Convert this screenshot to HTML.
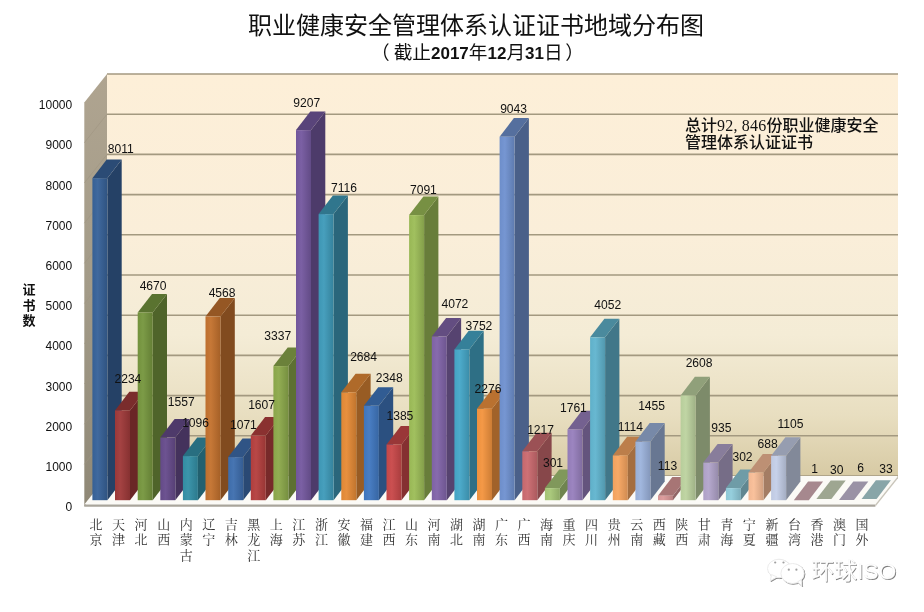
<!DOCTYPE html>
<html lang="zh-CN">
<head>
<meta charset="utf-8">
<title>职业健康安全管理体系认证证书地域分布图</title>
<style>html,body{margin:0;padding:0;background:#fff;}body{width:924px;height:612px;overflow:hidden;}svg{display:block;}</style>
</head>
<body>
<svg width="924" height="612" viewBox="0 0 924 612">
<defs>
<linearGradient id="wall" x1="0" y1="0" x2="0" y2="1"><stop offset="0" stop-color="#FDEFD8"/><stop offset="0.4" stop-color="#FAEED9"/><stop offset="0.65" stop-color="#F4ECD6"/><stop offset="0.85" stop-color="#E8DEC0"/><stop offset="1" stop-color="#D7CAA4"/></linearGradient>
<linearGradient id="side" x1="0" y1="0" x2="0" y2="1"><stop offset="0" stop-color="#AFA490"/><stop offset="0.5" stop-color="#A39B88"/><stop offset="1" stop-color="#8F8876"/></linearGradient>
<linearGradient id="g0" x1="0" y1="0" x2="1" y2="0"><stop offset="0" stop-color="#366095"/><stop offset="0.35" stop-color="#40699E"/><stop offset="1" stop-color="#2F5381"/></linearGradient>
<linearGradient id="g1" x1="0" y1="0" x2="1" y2="0"><stop offset="0" stop-color="#9B3838"/><stop offset="0.35" stop-color="#A44242"/><stop offset="1" stop-color="#863131"/></linearGradient>
<linearGradient id="g2" x1="0" y1="0" x2="1" y2="0"><stop offset="0" stop-color="#73923D"/><stop offset="0.35" stop-color="#7C9B47"/><stop offset="1" stop-color="#647F35"/></linearGradient>
<linearGradient id="g3" x1="0" y1="0" x2="1" y2="0"><stop offset="0" stop-color="#644A88"/><stop offset="0.35" stop-color="#6D5391"/><stop offset="1" stop-color="#574076"/></linearGradient>
<linearGradient id="g4" x1="0" y1="0" x2="1" y2="0"><stop offset="0" stop-color="#328DA3"/><stop offset="0.35" stop-color="#3C95AB"/><stop offset="1" stop-color="#2C7A8D"/></linearGradient>
<linearGradient id="g5" x1="0" y1="0" x2="1" y2="0"><stop offset="0" stop-color="#BE6F2E"/><stop offset="0.35" stop-color="#C67837"/><stop offset="1" stop-color="#A56027"/></linearGradient>
<linearGradient id="g6" x1="0" y1="0" x2="1" y2="0"><stop offset="0" stop-color="#3D6CAA"/><stop offset="0.35" stop-color="#4775B2"/><stop offset="1" stop-color="#355D93"/></linearGradient>
<linearGradient id="g7" x1="0" y1="0" x2="1" y2="0"><stop offset="0" stop-color="#B03E3D"/><stop offset="0.35" stop-color="#B84847"/><stop offset="1" stop-color="#983635"/></linearGradient>
<linearGradient id="g8" x1="0" y1="0" x2="1" y2="0"><stop offset="0" stop-color="#89A54A"/><stop offset="0.35" stop-color="#92AD53"/><stop offset="1" stop-color="#768F40"/></linearGradient>
<linearGradient id="g9" x1="0" y1="0" x2="1" y2="0"><stop offset="0" stop-color="#71569B"/><stop offset="0.35" stop-color="#7B60A4"/><stop offset="1" stop-color="#624B86"/></linearGradient>
<linearGradient id="g10" x1="0" y1="0" x2="1" y2="0"><stop offset="0" stop-color="#3D96B4"/><stop offset="0.35" stop-color="#479FBD"/><stop offset="1" stop-color="#35829C"/></linearGradient>
<linearGradient id="g11" x1="0" y1="0" x2="1" y2="0"><stop offset="0" stop-color="#DF8735"/><stop offset="0.35" stop-color="#E7903F"/><stop offset="1" stop-color="#C1752E"/></linearGradient>
<linearGradient id="g12" x1="0" y1="0" x2="1" y2="0"><stop offset="0" stop-color="#3F75BC"/><stop offset="0.35" stop-color="#497EC4"/><stop offset="1" stop-color="#3766A3"/></linearGradient>
<linearGradient id="g13" x1="0" y1="0" x2="1" y2="0"><stop offset="0" stop-color="#C34748"/><stop offset="0.35" stop-color="#CB5051"/><stop offset="1" stop-color="#A93D3E"/></linearGradient>
<linearGradient id="g14" x1="0" y1="0" x2="1" y2="0"><stop offset="0" stop-color="#98B755"/><stop offset="0.35" stop-color="#A1C05F"/><stop offset="1" stop-color="#849F4A"/></linearGradient>
<linearGradient id="g15" x1="0" y1="0" x2="1" y2="0"><stop offset="0" stop-color="#7E62A5"/><stop offset="0.35" stop-color="#876BAD"/><stop offset="1" stop-color="#6D558F"/></linearGradient>
<linearGradient id="g16" x1="0" y1="0" x2="1" y2="0"><stop offset="0" stop-color="#44A3C3"/><stop offset="0.35" stop-color="#4DABCB"/><stop offset="1" stop-color="#3B8DA9"/></linearGradient>
<linearGradient id="g17" x1="0" y1="0" x2="1" y2="0"><stop offset="0" stop-color="#ED913D"/><stop offset="0.35" stop-color="#F49947"/><stop offset="1" stop-color="#CD7D35"/></linearGradient>
<linearGradient id="g18" x1="0" y1="0" x2="1" y2="0"><stop offset="0" stop-color="#6D8ECA"/><stop offset="0.35" stop-color="#7696D2"/><stop offset="1" stop-color="#5E7BAF"/></linearGradient>
<linearGradient id="g19" x1="0" y1="0" x2="1" y2="0"><stop offset="0" stop-color="#C6686D"/><stop offset="0.35" stop-color="#CE7176"/><stop offset="1" stop-color="#AB5A5E"/></linearGradient>
<linearGradient id="g20" x1="0" y1="0" x2="1" y2="0"><stop offset="0" stop-color="#A3C274"/><stop offset="0.35" stop-color="#ABCA7D"/><stop offset="1" stop-color="#8DA865"/></linearGradient>
<linearGradient id="g21" x1="0" y1="0" x2="1" y2="0"><stop offset="0" stop-color="#937CB7"/><stop offset="0.35" stop-color="#9C85C0"/><stop offset="1" stop-color="#806C9F"/></linearGradient>
<linearGradient id="g22" x1="0" y1="0" x2="1" y2="0"><stop offset="0" stop-color="#5FB0C9"/><stop offset="0.35" stop-color="#68B8D1"/><stop offset="1" stop-color="#5298AE"/></linearGradient>
<linearGradient id="g23" x1="0" y1="0" x2="1" y2="0"><stop offset="0" stop-color="#F1A15E"/><stop offset="0.35" stop-color="#F8AA67"/><stop offset="1" stop-color="#D08B51"/></linearGradient>
<linearGradient id="g24" x1="0" y1="0" x2="1" y2="0"><stop offset="0" stop-color="#98AFD6"/><stop offset="0.35" stop-color="#A1B7DE"/><stop offset="1" stop-color="#8497BA"/></linearGradient>
<linearGradient id="g25" x1="0" y1="0" x2="1" y2="0"><stop offset="0" stop-color="#D59595"/><stop offset="0.35" stop-color="#DD9E9E"/><stop offset="1" stop-color="#B98181"/></linearGradient>
<linearGradient id="g26" x1="0" y1="0" x2="1" y2="0"><stop offset="0" stop-color="#B7CD9B"/><stop offset="0.35" stop-color="#C0D5A4"/><stop offset="1" stop-color="#9FB186"/></linearGradient>
<linearGradient id="g27" x1="0" y1="0" x2="1" y2="0"><stop offset="0" stop-color="#AEA0C6"/><stop offset="0.35" stop-color="#B6A9CE"/><stop offset="1" stop-color="#968BAB"/></linearGradient>
<linearGradient id="g28" x1="0" y1="0" x2="1" y2="0"><stop offset="0" stop-color="#8EC7D5"/><stop offset="0.35" stop-color="#96CFDD"/><stop offset="1" stop-color="#7BACB9"/></linearGradient>
<linearGradient id="g29" x1="0" y1="0" x2="1" y2="0"><stop offset="0" stop-color="#F2B893"/><stop offset="0.35" stop-color="#F9C19C"/><stop offset="1" stop-color="#D1A080"/></linearGradient>
<linearGradient id="g30" x1="0" y1="0" x2="1" y2="0"><stop offset="0" stop-color="#BFC9E1"/><stop offset="0.35" stop-color="#C7D1E9"/><stop offset="1" stop-color="#A5AEC3"/></linearGradient>
<linearGradient id="g31" x1="0" y1="0" x2="1" y2="0"><stop offset="0" stop-color="#A1848A"/><stop offset="0.35" stop-color="#AA8D93"/><stop offset="1" stop-color="#8B7277"/></linearGradient>
<linearGradient id="g32" x1="0" y1="0" x2="1" y2="0"><stop offset="0" stop-color="#99A18D"/><stop offset="0.35" stop-color="#A2AA95"/><stop offset="1" stop-color="#858B7A"/></linearGradient>
<linearGradient id="g33" x1="0" y1="0" x2="1" y2="0"><stop offset="0" stop-color="#958EA0"/><stop offset="0.35" stop-color="#9E96A9"/><stop offset="1" stop-color="#817B8B"/></linearGradient>
<linearGradient id="g34" x1="0" y1="0" x2="1" y2="0"><stop offset="0" stop-color="#84A0A3"/><stop offset="0.35" stop-color="#8DA9AB"/><stop offset="1" stop-color="#728B8D"/></linearGradient>
</defs>
<rect width="924" height="612" fill="#FFFFFF"/>
<rect x="107.0" y="74.0" width="791.0" height="402.0" fill="url(#wall)"/>
<polygon points="84.3,102.6 107.0,74.0 107.0,478.0 84.3,506.6" fill="url(#side)"/>
<line x1="107.0" y1="476.0" x2="898.0" y2="476.0" stroke="#A39980" stroke-width="1.6"/>
<line x1="107.0" y1="435.8" x2="898.0" y2="435.8" stroke="#A39980" stroke-width="1.6"/>
<line x1="84.3" y1="464.4" x2="107.0" y2="435.8" stroke="#9F9582" stroke-width="1" opacity="0.6"/>
<line x1="107.0" y1="395.6" x2="898.0" y2="395.6" stroke="#A39980" stroke-width="1.6"/>
<line x1="84.3" y1="424.2" x2="107.0" y2="395.6" stroke="#9F9582" stroke-width="1" opacity="0.6"/>
<line x1="107.0" y1="355.4" x2="898.0" y2="355.4" stroke="#A39980" stroke-width="1.6"/>
<line x1="84.3" y1="384.0" x2="107.0" y2="355.4" stroke="#9F9582" stroke-width="1" opacity="0.6"/>
<line x1="107.0" y1="315.2" x2="898.0" y2="315.2" stroke="#A39980" stroke-width="1.6"/>
<line x1="84.3" y1="343.8" x2="107.0" y2="315.2" stroke="#9F9582" stroke-width="1" opacity="0.6"/>
<line x1="107.0" y1="275.0" x2="898.0" y2="275.0" stroke="#A39980" stroke-width="1.6"/>
<line x1="84.3" y1="303.6" x2="107.0" y2="275.0" stroke="#9F9582" stroke-width="1" opacity="0.6"/>
<line x1="107.0" y1="234.8" x2="898.0" y2="234.8" stroke="#A39980" stroke-width="1.6"/>
<line x1="84.3" y1="263.4" x2="107.0" y2="234.8" stroke="#9F9582" stroke-width="1" opacity="0.6"/>
<line x1="107.0" y1="194.6" x2="898.0" y2="194.6" stroke="#A39980" stroke-width="1.6"/>
<line x1="84.3" y1="223.2" x2="107.0" y2="194.6" stroke="#9F9582" stroke-width="1" opacity="0.6"/>
<line x1="107.0" y1="154.4" x2="898.0" y2="154.4" stroke="#A39980" stroke-width="1.6"/>
<line x1="84.3" y1="183.0" x2="107.0" y2="154.4" stroke="#9F9582" stroke-width="1" opacity="0.6"/>
<line x1="107.0" y1="114.2" x2="898.0" y2="114.2" stroke="#A39980" stroke-width="1.6"/>
<line x1="84.3" y1="142.8" x2="107.0" y2="114.2" stroke="#9F9582" stroke-width="1" opacity="0.6"/>
<line x1="107.0" y1="74.0" x2="898.0" y2="74.0" stroke="#A39980" stroke-width="1.6"/>
<polygon points="84.3,504.6 107.0,476.0 898.0,476.0 875.3,504.6" fill="#FBFAF6"/>
<polygon points="84.3,504.6 875.3,504.6 875.3,506.8 84.3,506.8" fill="#A9A59B"/>
<polygon points="875.3,504.6 898.0,476.0 898.0,478.2 875.3,506.8" fill="#C9C5BA"/>
<polygon points="107.4,500.2 121.7,481.6 121.7,159.6 107.4,178.2" fill="#254166"/>
<polygon points="92.4,178.2 107.4,178.2 121.7,159.6 106.7,159.6" fill="#2B4B75"/>
<rect x="92.4" y="178.2" width="15.0" height="322.0" fill="url(#g0)"/>
<polygon points="130.0,500.2 144.3,481.6 144.3,391.8 130.0,410.4" fill="#6A2626"/>
<polygon points="115.0,410.4 130.0,410.4 144.3,391.8 129.3,391.8" fill="#7A2C2C"/>
<rect x="115.0" y="410.4" width="15.0" height="89.8" fill="url(#g1)"/>
<polygon points="152.7,500.2 167.0,481.6 167.0,293.9 152.7,312.5" fill="#4F642A"/>
<polygon points="137.7,312.5 152.7,312.5 167.0,293.9 152.0,293.9" fill="#5A7330"/>
<rect x="137.7" y="312.5" width="15.0" height="187.7" fill="url(#g2)"/>
<polygon points="175.3,500.2 189.6,481.6 189.6,419.0 175.3,437.6" fill="#44325C"/>
<polygon points="160.3,437.6 175.3,437.6 189.6,419.0 174.6,419.0" fill="#4E3A6A"/>
<rect x="160.3" y="437.6" width="15.0" height="62.6" fill="url(#g3)"/>
<polygon points="197.9,500.2 212.2,481.6 212.2,437.5 197.9,456.1" fill="#22606F"/>
<polygon points="182.9,456.1 197.9,456.1 212.2,437.5 197.2,437.5" fill="#286E80"/>
<rect x="182.9" y="456.1" width="15.0" height="44.1" fill="url(#g4)"/>
<polygon points="220.5,500.2 234.8,481.6 234.8,298.0 220.5,316.6" fill="#814B1F"/>
<polygon points="205.5,316.6 220.5,316.6 234.8,298.0 219.8,298.0" fill="#955724"/>
<rect x="205.5" y="316.6" width="15.0" height="183.6" fill="url(#g5)"/>
<polygon points="243.2,500.2 257.4,481.6 257.4,438.5 243.2,457.1" fill="#2A4974"/>
<polygon points="228.2,457.1 243.2,457.1 257.4,438.5 242.5,438.5" fill="#305485"/>
<rect x="228.2" y="457.1" width="15.0" height="43.1" fill="url(#g6)"/>
<polygon points="265.8,500.2 280.1,481.6 280.1,417.0 265.8,435.6" fill="#772A2A"/>
<polygon points="250.8,435.6 265.8,435.6 280.1,417.0 265.1,417.0" fill="#8A3130"/>
<rect x="250.8" y="435.6" width="15.0" height="64.6" fill="url(#g7)"/>
<polygon points="288.4,500.2 302.7,481.6 302.7,347.5 288.4,366.1" fill="#5D7032"/>
<polygon points="273.4,366.1 288.4,366.1 302.7,347.5 287.7,347.5" fill="#6B813A"/>
<rect x="273.4" y="366.1" width="15.0" height="134.1" fill="url(#g8)"/>
<polygon points="311.0,500.2 325.3,481.6 325.3,111.5 311.0,130.1" fill="#4D3B6A"/>
<polygon points="296.0,130.1 311.0,130.1 325.3,111.5 310.3,111.5" fill="#59447A"/>
<rect x="296.0" y="130.1" width="15.0" height="370.1" fill="url(#g9)"/>
<polygon points="333.6,500.2 347.9,481.6 347.9,195.5 333.6,214.1" fill="#2A667B"/>
<polygon points="318.6,214.1 333.6,214.1 347.9,195.5 332.9,195.5" fill="#30768D"/>
<rect x="318.6" y="214.1" width="15.0" height="286.1" fill="url(#g10)"/>
<polygon points="356.3,500.2 370.6,481.6 370.6,373.7 356.3,392.3" fill="#985C24"/>
<polygon points="341.3,392.3 356.3,392.3 370.6,373.7 355.6,373.7" fill="#AF6A2A"/>
<rect x="341.3" y="392.3" width="15.0" height="107.9" fill="url(#g11)"/>
<polygon points="378.9,500.2 393.2,481.6 393.2,387.2 378.9,405.8" fill="#2B5080"/>
<polygon points="363.9,405.8 378.9,405.8 393.2,387.2 378.2,387.2" fill="#315C93"/>
<rect x="363.9" y="405.8" width="15.0" height="94.4" fill="url(#g12)"/>
<polygon points="401.5,500.2 415.8,481.6 415.8,425.9 401.5,444.5" fill="#853031"/>
<polygon points="386.5,444.5 401.5,444.5 415.8,425.9 400.8,425.9" fill="#993738"/>
<rect x="386.5" y="444.5" width="15.0" height="55.7" fill="url(#g13)"/>
<polygon points="424.1,500.2 438.4,481.6 438.4,196.5 424.1,215.1" fill="#687D3A"/>
<polygon points="409.1,215.1 424.1,215.1 438.4,196.5 423.4,196.5" fill="#779043"/>
<rect x="409.1" y="215.1" width="15.0" height="285.1" fill="url(#g14)"/>
<polygon points="446.8,500.2 461.1,481.6 461.1,317.9 446.8,336.5" fill="#564370"/>
<polygon points="431.8,336.5 446.8,336.5 461.1,317.9 446.1,317.9" fill="#634D81"/>
<rect x="431.8" y="336.5" width="15.0" height="163.7" fill="url(#g15)"/>
<polygon points="469.4,500.2 483.7,481.6 483.7,330.8 469.4,349.4" fill="#2E6F85"/>
<polygon points="454.4,349.4 469.4,349.4 483.7,330.8 468.7,330.8" fill="#358099"/>
<rect x="454.4" y="349.4" width="15.0" height="150.8" fill="url(#g16)"/>
<polygon points="492.0,500.2 506.3,481.6 506.3,390.1 492.0,408.7" fill="#A1622A"/>
<polygon points="477.0,408.7 492.0,408.7 506.3,390.1 491.3,390.1" fill="#B97130"/>
<rect x="477.0" y="408.7" width="15.0" height="91.5" fill="url(#g17)"/>
<polygon points="514.6,500.2 528.9,481.6 528.9,118.1 514.6,136.7" fill="#4A6089"/>
<polygon points="499.6,136.7 514.6,136.7 528.9,118.1 513.9,118.1" fill="#556F9E"/>
<rect x="499.6" y="136.7" width="15.0" height="363.5" fill="url(#g18)"/>
<polygon points="537.3,500.2 551.6,481.6 551.6,432.7 537.3,451.3" fill="#87474A"/>
<polygon points="522.3,451.3 537.3,451.3 551.6,432.7 536.6,432.7" fill="#9B5155"/>
<rect x="522.3" y="451.3" width="15.0" height="48.9" fill="url(#g19)"/>
<polygon points="559.9,500.2 574.2,481.6 574.2,469.5 559.9,488.1" fill="#6F844F"/>
<polygon points="544.9,488.1 559.9,488.1 574.2,469.5 559.2,469.5" fill="#80985B"/>
<rect x="544.9" y="488.1" width="15.0" height="12.1" fill="url(#g20)"/>
<polygon points="582.5,500.2 596.8,481.6 596.8,410.8 582.5,429.4" fill="#64547D"/>
<polygon points="567.5,429.4 582.5,429.4 596.8,410.8 581.8,410.8" fill="#746190"/>
<rect x="567.5" y="429.4" width="15.0" height="70.8" fill="url(#g21)"/>
<polygon points="605.1,500.2 619.4,481.6 619.4,318.7 605.1,337.3" fill="#417789"/>
<polygon points="590.1,337.3 605.1,337.3 619.4,318.7 604.4,318.7" fill="#4A8A9D"/>
<rect x="590.1" y="337.3" width="15.0" height="162.9" fill="url(#g22)"/>
<polygon points="627.8,500.2 642.1,481.6 642.1,436.8 627.8,455.4" fill="#A46E40"/>
<polygon points="612.8,455.4 627.8,455.4 642.1,436.8 627.1,436.8" fill="#BC7E4A"/>
<rect x="612.8" y="455.4" width="15.0" height="44.8" fill="url(#g23)"/>
<polygon points="650.4,500.2 664.7,481.6 664.7,423.1 650.4,441.7" fill="#687792"/>
<polygon points="635.4,441.7 650.4,441.7 664.7,423.1 649.7,423.1" fill="#7789A8"/>
<rect x="635.4" y="441.7" width="15.0" height="58.5" fill="url(#g24)"/>
<polygon points="673.0,500.2 687.3,481.6 687.3,477.1 673.0,495.7" fill="#916666"/>
<polygon points="658.0,495.7 673.0,495.7 687.3,477.1 672.3,477.1" fill="#A77575"/>
<rect x="658.0" y="495.7" width="15.0" height="4.5" fill="url(#g25)"/>
<polygon points="695.6,500.2 709.9,481.6 709.9,376.8 695.6,395.4" fill="#7D8B6A"/>
<polygon points="680.6,395.4 695.6,395.4 709.9,376.8 694.9,376.8" fill="#90A07A"/>
<rect x="680.6" y="395.4" width="15.0" height="104.8" fill="url(#g26)"/>
<polygon points="718.3,500.2 732.6,481.6 732.6,444.0 718.3,462.6" fill="#766D87"/>
<polygon points="703.3,462.6 718.3,462.6 732.6,444.0 717.6,444.0" fill="#887D9B"/>
<rect x="703.3" y="462.6" width="15.0" height="37.6" fill="url(#g27)"/>
<polygon points="740.9,500.2 755.2,481.6 755.2,469.5 740.9,488.1" fill="#608791"/>
<polygon points="725.9,488.1 740.9,488.1 755.2,469.5 740.2,469.5" fill="#6F9CA7"/>
<rect x="725.9" y="488.1" width="15.0" height="12.1" fill="url(#g28)"/>
<polygon points="763.5,500.2 777.8,481.6 777.8,453.9 763.5,472.5" fill="#A47D64"/>
<polygon points="748.5,472.5 763.5,472.5 777.8,453.9 762.8,453.9" fill="#BD9074"/>
<rect x="748.5" y="472.5" width="15.0" height="27.7" fill="url(#g29)"/>
<polygon points="786.1,500.2 800.4,481.6 800.4,437.2 786.1,455.8" fill="#828999"/>
<polygon points="771.1,455.8 786.1,455.8 800.4,437.2 785.4,437.2" fill="#969DB0"/>
<rect x="771.1" y="455.8" width="15.0" height="44.4" fill="url(#g30)"/>
<polygon points="793.8,500.2 808.8,500.2 823.1,481.6 808.1,481.6" fill="#A6888E"/>
<polygon points="816.4,499.0 831.4,499.0 845.7,480.4 830.7,480.4" fill="#9EA691"/>
<polygon points="839.0,500.0 854.0,500.0 868.3,481.4 853.3,481.4" fill="#9A92A5"/>
<polygon points="861.6,498.9 876.6,498.9 890.9,480.3 875.9,480.3" fill="#88A5A8"/>
<g font-family="'Liberation Sans', sans-serif" font-size="12.1" fill="#111111" text-anchor="middle">
<text x="120.7" y="153.4">8011</text>
<text x="127.9" y="383.0">2234</text>
<text x="153.1" y="290.2">4670</text>
<text x="181.2" y="406.1">1557</text>
<text x="195.6" y="427.2">1096</text>
<text x="222.1" y="297.4">4568</text>
<text x="243.4" y="428.9">1071</text>
<text x="261.6" y="408.5">1607</text>
<text x="277.7" y="340.1">3337</text>
<text x="306.7" y="106.6">9207</text>
<text x="344.0" y="191.7">7116</text>
<text x="363.6" y="361.2">2684</text>
<text x="389.2" y="382.4">2348</text>
<text x="399.9" y="419.9">1385</text>
<text x="423.4" y="193.8">7091</text>
<text x="454.9" y="308.1">4072</text>
<text x="478.9" y="330.4">3752</text>
<text x="488.0" y="393.2">2276</text>
<text x="513.6" y="113.0">9043</text>
<text x="540.6" y="433.6">1217</text>
<text x="553.0" y="467.2">301</text>
<text x="573.4" y="412.4">1761</text>
<text x="607.8" y="308.8">4052</text>
<text x="630.4" y="431.0">1114</text>
<text x="651.6" y="410.2">1455</text>
<text x="667.5" y="470.4">113</text>
<text x="699.1" y="366.6">2608</text>
<text x="721.3" y="432.4">935</text>
<text x="742.5" y="460.6">302</text>
<text x="767.7" y="447.6">688</text>
<text x="790.5" y="428.1">1105</text>
<text x="814.6" y="473.1">1</text>
<text x="836.8" y="474.2">30</text>
<text x="860.7" y="472.0">6</text>
<text x="886.1" y="473.2">33</text>
</g>
<g font-family="'Liberation Sans', sans-serif" font-size="12" fill="#111111" text-anchor="end">
<text x="72.2" y="511.2">0</text>
<text x="72.2" y="471.0">1000</text>
<text x="72.2" y="430.8">2000</text>
<text x="72.2" y="390.6">3000</text>
<text x="72.2" y="350.4">4000</text>
<text x="72.2" y="310.2">5000</text>
<text x="72.2" y="270.0">6000</text>
<text x="72.2" y="229.8">7000</text>
<text x="72.2" y="189.6">8000</text>
<text x="72.2" y="149.4">9000</text>
<text x="72.2" y="109.2">10000</text>
</g>
<g font-family="'Liberation Sans', 'Noto Sans CJK SC', sans-serif" font-size="13" font-weight="bold" fill="#111111" text-anchor="middle">
<text x="29" y="293.8">证</text>
<text x="29" y="309.6">书</text>
<text x="29" y="325.4">数</text>
</g>
<g font-family="'Liberation Serif', 'Noto Serif CJK SC', serif" font-size="13" fill="#333333" text-anchor="middle">
<text x="96.1" y="528.8">北</text>
<text x="96.1" y="544.4">京</text>
<text x="118.6" y="528.8">天</text>
<text x="118.6" y="544.4">津</text>
<text x="141.1" y="528.8">河</text>
<text x="141.1" y="544.4">北</text>
<text x="163.7" y="528.8">山</text>
<text x="163.7" y="544.4">西</text>
<text x="186.2" y="528.8">内</text>
<text x="186.2" y="544.4">蒙</text>
<text x="186.2" y="560.1">古</text>
<text x="208.7" y="528.8">辽</text>
<text x="208.7" y="544.4">宁</text>
<text x="231.2" y="528.8">吉</text>
<text x="231.2" y="544.4">林</text>
<text x="253.8" y="528.8">黑</text>
<text x="253.8" y="544.4">龙</text>
<text x="253.8" y="560.1">江</text>
<text x="276.3" y="528.8">上</text>
<text x="276.3" y="544.4">海</text>
<text x="298.8" y="528.8">江</text>
<text x="298.8" y="544.4">苏</text>
<text x="321.4" y="528.8">浙</text>
<text x="321.4" y="544.4">江</text>
<text x="343.9" y="528.8">安</text>
<text x="343.9" y="544.4">徽</text>
<text x="366.4" y="528.8">福</text>
<text x="366.4" y="544.4">建</text>
<text x="388.9" y="528.8">江</text>
<text x="388.9" y="544.4">西</text>
<text x="411.4" y="528.8">山</text>
<text x="411.4" y="544.4">东</text>
<text x="434.0" y="528.8">河</text>
<text x="434.0" y="544.4">南</text>
<text x="456.5" y="528.8">湖</text>
<text x="456.5" y="544.4">北</text>
<text x="479.0" y="528.8">湖</text>
<text x="479.0" y="544.4">南</text>
<text x="501.5" y="528.8">广</text>
<text x="501.5" y="544.4">东</text>
<text x="524.1" y="528.8">广</text>
<text x="524.1" y="544.4">西</text>
<text x="546.6" y="528.8">海</text>
<text x="546.6" y="544.4">南</text>
<text x="569.1" y="528.8">重</text>
<text x="569.1" y="544.4">庆</text>
<text x="591.6" y="528.8">四</text>
<text x="591.6" y="544.4">川</text>
<text x="614.2" y="528.8">贵</text>
<text x="614.2" y="544.4">州</text>
<text x="636.7" y="528.8">云</text>
<text x="636.7" y="544.4">南</text>
<text x="659.2" y="528.8">西</text>
<text x="659.2" y="544.4">藏</text>
<text x="681.8" y="528.8">陕</text>
<text x="681.8" y="544.4">西</text>
<text x="704.3" y="528.8">甘</text>
<text x="704.3" y="544.4">肃</text>
<text x="726.8" y="528.8">青</text>
<text x="726.8" y="544.4">海</text>
<text x="749.3" y="528.8">宁</text>
<text x="749.3" y="544.4">夏</text>
<text x="771.9" y="528.8">新</text>
<text x="771.9" y="544.4">疆</text>
<text x="794.4" y="528.8">台</text>
<text x="794.4" y="544.4">湾</text>
<text x="816.9" y="528.8">香</text>
<text x="816.9" y="544.4">港</text>
<text x="839.4" y="528.8">澳</text>
<text x="839.4" y="544.4">门</text>
<text x="861.9" y="528.8">国</text>
<text x="861.9" y="544.4">外</text>
</g>
<text x="476" y="34.3" font-family="'Liberation Sans', 'Noto Sans CJK SC', sans-serif" font-size="24" fill="#111111" text-anchor="middle">职业健康安全管理体系认证证书地域分布图</text>
<text x="371" y="59" font-family="'Liberation Sans', 'Noto Sans CJK SC', sans-serif" font-size="18.67" fill="#111111">（<tspan dx="4">截止</tspan><tspan font-weight="bold" font-size="17">2017</tspan>年<tspan font-weight="bold" font-size="17">12</tspan>月<tspan font-weight="bold" font-size="17">31</tspan>日<tspan dx="2.6">）</tspan></text>
<g font-family="'Liberation Sans', 'Noto Sans CJK SC', sans-serif" font-size="16" font-weight="500" fill="#111111">
<text x="685" y="130.8">总计<tspan font-family="'Liberation Serif', serif" font-weight="400" letter-spacing="0.2">92, 846</tspan>份职业健康安全</text>
<text x="685" y="148">管理体系认证证书</text>
</g>
<g fill="#8C8C8C" stroke="#8C8C8C" stroke-width="1" transform="translate(0.8,0.8)"><ellipse cx="779" cy="568.5" rx="11.5" ry="9.3"/><polygon points="771.5,574.5 770.3,580.8 777,577"/></g>
<g fill="#FFFFFF" stroke="#EDEDED" stroke-width="1"><ellipse cx="779" cy="568.5" rx="11.5" ry="9.3"/><polygon points="771.5,574.5 770.3,580.8 777,577"/></g>
<g fill="#8C8C8C" stroke="#8C8C8C" stroke-width="1" transform="translate(0.8,0.8)"><ellipse cx="792.5" cy="573.5" rx="11.6" ry="10"/><polygon points="797.5,582 801.8,585.8 801.2,579.5"/></g>
<g fill="#FFFFFF" stroke="#EDEDED" stroke-width="1"><ellipse cx="792.5" cy="573.5" rx="11.6" ry="10"/><polygon points="797.5,582 801.8,585.8 801.2,579.5"/></g>
<g fill="#A0A0A0"><circle cx="775.2" cy="562.5" r="1.1"/><circle cx="783.5" cy="562.5" r="1.1"/><circle cx="788.8" cy="569.7" r="1.1"/><circle cx="796.4" cy="569.7" r="1.1"/></g>
<text x="812.3" y="580.2" font-family="'Liberation Sans', 'Noto Sans CJK SC', sans-serif" font-size="22.8" fill="#7E7E7E">环球ISO</text>
<text x="811.4" y="579.3" font-family="'Liberation Sans', 'Noto Sans CJK SC', sans-serif" font-size="22.8" fill="#FFFFFF" stroke="#F4F4F4" stroke-width="0.3">环球ISO</text>
</svg>
</body>
</html>
